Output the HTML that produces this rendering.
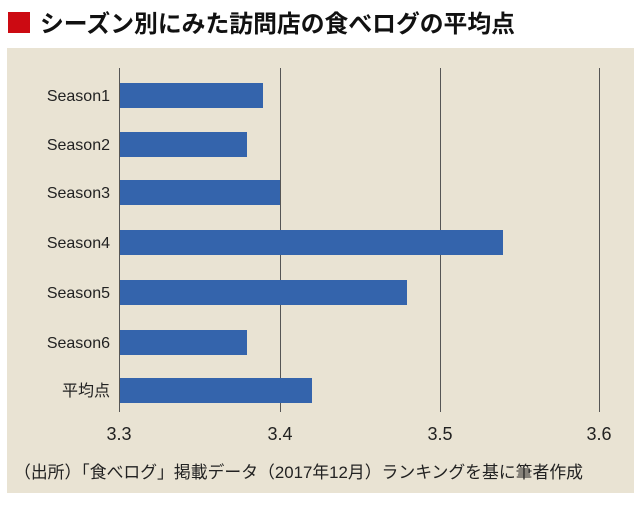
<!DOCTYPE html>
<html><head><meta charset="utf-8"><style>
body{margin:0;width:640px;height:506px;background:#fff;overflow:hidden;font-family:"Liberation Sans","Noto Sans CJK JP",sans-serif;}
</style></head><body>
<svg width="640" height="506" xmlns="http://www.w3.org/2000/svg" style="position:absolute;left:0;top:0">
<rect x="8" y="12" width="22" height="21" fill="#cc0a12"/>
<text x="40" y="32" font-size="24" font-weight="bold" fill="#111" font-family="Noto Sans CJK JP,sans-serif" textLength="475" lengthAdjust="spacingAndGlyphs">シーズン別にみた訪問店の食べログの平均点</text>
<rect x="7" y="48" width="627" height="445" fill="#e9e3d3"/>
<g stroke="#555" stroke-width="1">
<line x1="119.5" y1="68" x2="119.5" y2="412"/>
<line x1="280.5" y1="68" x2="280.5" y2="412"/>
<line x1="440.5" y1="68" x2="440.5" y2="412"/>
<line x1="599.5" y1="68" x2="599.5" y2="412"/>
</g>
<g fill="#3464ac">
<rect x="120" y="83" width="143" height="25"/>
<rect x="120" y="132" width="127" height="25"/>
<rect x="120" y="180" width="160" height="25"/>
<rect x="120" y="230" width="383" height="25"/>
<rect x="120" y="280" width="287" height="25"/>
<rect x="120" y="330" width="127" height="25"/>
<rect x="120" y="378" width="192" height="25"/>
</g>
<g font-size="16" fill="#222" text-anchor="end">
<text x="110" y="101">Season1</text>
<text x="110" y="150">Season2</text>
<text x="110" y="198">Season3</text>
<text x="110" y="248">Season4</text>
<text x="110" y="298">Season5</text>
<text x="110" y="348">Season6</text>
<text x="110" y="396" font-family="Noto Sans CJK JP,sans-serif">平均点</text>
</g>
<g font-size="18" fill="#222" text-anchor="middle">
<text x="119" y="440">3.3</text>
<text x="280" y="440">3.4</text>
<text x="440" y="440">3.5</text>
<text x="599" y="440">3.6</text>
</g>
<text x="14" y="478" font-size="17" fill="#222" font-family="Liberation Sans,Noto Sans CJK JP,sans-serif" textLength="569" lengthAdjust="spacingAndGlyphs">（出所）「食べログ」掲載データ（2017年12月）ランキングを基に筆者作成</text>
</svg>
</body></html>
